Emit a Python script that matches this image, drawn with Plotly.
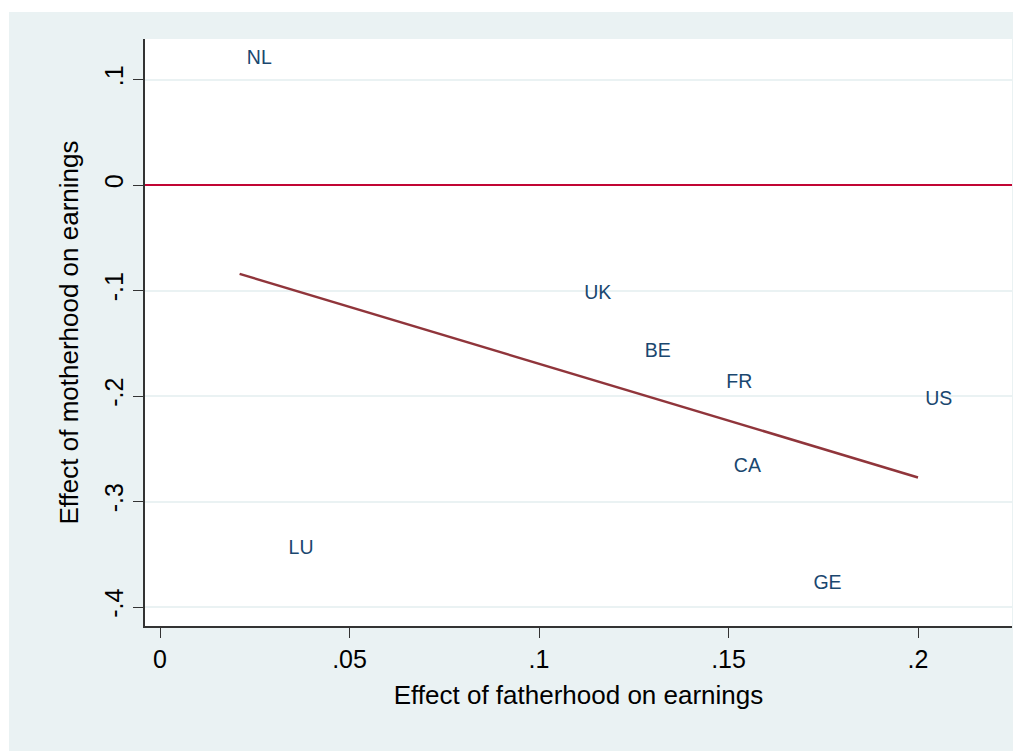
import numpy as np
import plotly.graph_objects as go

countries = ["NL", "LU", "UK", "BE", "FR", "CA", "GE", "US"]
father_effect = [0.021, 0.032, 0.110, 0.126, 0.1475, 0.1495, 0.1705, 0.200]
mother_effect = [0.119, -0.345, -0.103, -0.158, -0.188, -0.267, -0.378, -0.204]

x_ticks = [0, 0.05, 0.1, 0.15, 0.2]
x_ticktext = ["0", ".05", ".1", ".15", ".2"]
y_ticks = [-0.4, -0.3, -0.2, -0.1, 0, 0.1]
y_ticktext = ["-.4", "-.3", "-.2", "-.1", "0", ".1"]

# linear fit
slope, intercept = np.polyfit(father_effect, mother_effect, 1)
fx = [min(father_effect), max(father_effect)]
fy = [intercept + slope * v for v in fx]

BG = "#EAF2F3"
W, H = 1021, 751
OFF = 8  # page body margin
L, T = 145 - OFF, 39 - OFF
R = W - (1012 - OFF)
B = H - (626 - OFF)
pw, ph = W - L - R, H - T - B

fig = go.Figure()
fig.add_trace(go.Scatter(
    x=fx, y=fy, mode="lines",
    line=dict(color="#90353B", width=2.5),
    hoverinfo="skip", showlegend=False,
))
fig.add_trace(go.Scatter(
    x=father_effect, y=mother_effect, mode="markers+text",
    text=countries, textposition="middle right",
    marker=dict(size=10, opacity=0),
    textfont=dict(family="Arial, Liberation Sans, sans-serif", size=19.5, color="#1A476F"),
    showlegend=False,
))
fig.add_hline(y=0, line=dict(color="#C10534", width=2.2), layer="above")

# white strips at top and left edges
top_strip = 12 - OFF
left_strip = 9 - OFF
fig.add_shape(type="rect", xref="paper", yref="paper",
              x0=-L / pw, x1=(W - L) / pw, y0=(H - B - top_strip) / ph, y1=(H - B + 5) / ph,
              fillcolor="white", line=dict(width=0), layer="below")
fig.add_shape(type="rect", xref="paper", yref="paper",
              x0=-(L + 5) / pw, x1=(-L + left_strip) / pw, y0=-B / ph, y1=(H - B + 5) / ph,
              fillcolor="white", line=dict(width=0), layer="below")

font = "Arial, Liberation Sans, sans-serif"
fig.update_layout(
    width=W, height=H,
    margin=dict(l=L, r=R, t=T, b=B, pad=0),
    paper_bgcolor=BG, plot_bgcolor="white",
    font=dict(family=font, color="black"),
    xaxis=dict(
        range=[-0.00396, 0.2248], tickvals=x_ticks, ticktext=x_ticktext,
        ticks="outside", ticklen=10, tickwidth=1.2, tickcolor="#333333",
        showline=True, linecolor="#333333", linewidth=1.5,
        showgrid=False, zeroline=False,
        tickfont=dict(size=25, color="black"),
        title=dict(text="Effect of fatherhood on earnings", font=dict(size=26, color="black"), standoff=14),
    ),
    yaxis=dict(
        range=[-0.418, 0.1384], tickvals=y_ticks, ticktext=y_ticktext,
        ticks="outside", ticklen=10, tickwidth=1.2, tickcolor="#333333",
        showline=True, linecolor="#333333", linewidth=1.5,
        showgrid=True, gridcolor=BG, gridwidth=1.5, zeroline=False,
        tickangle=-90,
        tickfont=dict(size=25, color="black"),
        title=dict(text="Effect of motherhood on earnings", font=dict(size=26, color="black"), standoff=14),
    ),
)

fig.write_html("out.html")
